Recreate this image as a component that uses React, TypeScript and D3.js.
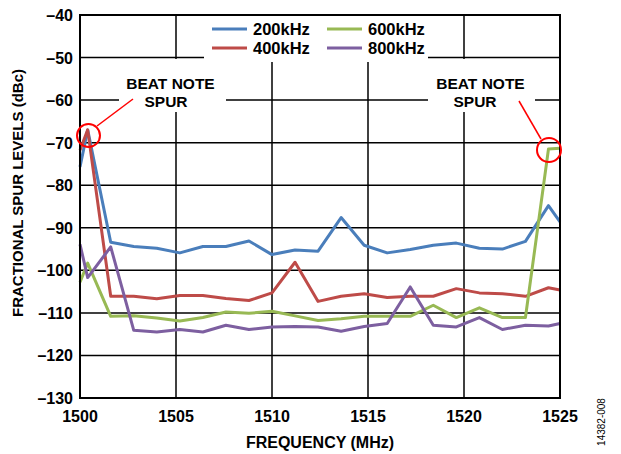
import React from "react";
import * as d3 from "d3";

// frequency points (MHz)
const freqs = [
  1500, 1500.4, 1501.6, 1502.8, 1504, 1505.2, 1506.4, 1507.6, 1508.8, 1510,
  1511.2, 1512.4, 1513.6, 1514.8, 1516, 1517.2, 1518.4, 1519.6, 1520.8, 1522,
  1523.2, 1524.4, 1525,
];

const s200 = [
  -75.7, -67, -93.4, -94.4, -94.8, -95.9, -94.4, -94.4, -93.1, -96.3, -95.2,
  -95.5, -87.6, -94.1, -95.9, -95.1, -94.1, -93.6, -94.8, -95, -93.2, -84.8,
  -88.6,
];
const s400 = [
  -71.8, -67, -106.1, -106.1, -106.7, -105.9, -105.9, -106.6, -107.1, -105.3,
  -98.1, -107.3, -106.1, -105.5, -106.4, -106.1, -106.1, -104.3, -105.3,
  -105.5, -106.1, -104.1, -104.6,
];
const s600 = [
  -102.8, -98.3, -110.8, -110.7, -111.2, -111.9, -111.1, -109.8, -110.1,
  -109.6, -110.7, -111.8, -111.4, -110.8, -110.8, -110.8, -108.2, -111.1,
  -108.8, -111.1, -111.1, -71.5, -71.3,
];
const s800 = [
  -93.9, -101.7, -94.5, -114.1, -114.5, -113.9, -114.5, -112.9, -113.9,
  -113.3, -113.2, -113.3, -114.3, -113.2, -112.5, -103.9, -112.9, -113.3,
  -111.1, -113.9, -112.9, -113.1, -112.5,
];

const seriesNames = ["200kHz", "400kHz", "600kHz", "800kHz"];
const seriesColors = ["#4a7ebb", "#be4b48", "#98b954", "#7d5fa0"];
const seriesData = [s200, s400, s600, s800];

const xTicks = [1500, 1505, 1510, 1515, 1520, 1525];
const yTicks = [-40, -50, -60, -70, -80, -90, -100, -110, -120, -130];

const W = 621;
const H = 454;
const left = 80;
const right = 560;
const top = 15;
const bottom = 398;
const font = "'Liberation Sans', Arial, Helvetica, sans-serif";

const App = () => {
  const x = d3.scaleLinear().domain([1500, 1525]).range([left, right]);
  const y = d3.scaleLinear().domain([-40, -130]).range([top, bottom]);

  const line = d3
    .line<number>()
    .x((d, i) => x(freqs[i]))
    .y((d) => y(d));

  const fmt = (v: number) => (v < 0 ? "\u2013" + Math.abs(v) : String(v));

  return (
    <svg
      width={W}
      height={H}
      style={{ position: "absolute", left: 0, top: 0, background: "#fff" }}
      fontFamily={font}
    >
      {/* grid */}
      {yTicks.map((t) => (
        <line key={"gy" + t} x1={left} x2={right} y1={y(t)} y2={y(t)} stroke="#000" strokeWidth={1.5} />
      ))}
      {xTicks.map((t) => (
        <line key={"gx" + t} x1={x(t)} x2={x(t)} y1={top} y2={bottom} stroke="#000" strokeWidth={1.5} />
      ))}

      {/* white boxes behind legend and annotations */}
      <rect x={204} y={top + 1} width={224} height={46} fill="#fff" />
      <rect x={119} y={59} width={107} height={53} fill="#fff" />
      <rect x={428} y={59} width={107} height={53} fill="#fff" />

      {/* series */}
      {seriesData.map((s, i) => (
        <path
          key={seriesNames[i]}
          d={line(s) || ""}
          fill="none"
          stroke={seriesColors[i]}
          strokeWidth={3}
          strokeLinejoin="round"
        />
      ))}

      {/* frame */}
      <rect x={left} y={top} width={right - left} height={bottom - top} fill="none" stroke="#000" strokeWidth={2} />

      {/* y ticks */}
      {yTicks.map((t) => (
        <text key={"ty" + t} x={73} y={y(t) + 6} textAnchor="end" fontSize={16} fontWeight="bold">
          {fmt(t)}
        </text>
      ))}
      {/* x ticks */}
      {xTicks.map((t) => (
        <text key={"tx" + t} x={x(t)} y={422} textAnchor="middle" fontSize={16} fontWeight="bold">
          {t}
        </text>
      ))}

      {/* legend: two columns */}
      {seriesNames.map((n, i) => {
        const ly = i === 0 || i === 2 ? 29 : 48;
        const col = i < 2 ? 212 : 327;
        return (
          <g key={"lg" + n}>
            <line x1={col} x2={col + 35} y1={ly} y2={ly} stroke={seriesColors[i]} strokeWidth={3} />
            <text x={col + 41} y={ly + 6} fontSize={16.5} fontWeight="bold">
              {n}
            </text>
          </g>
        );
      })}

      {/* annotations */}
      <text x={170.5} y={89} textAnchor="middle" fontSize={15.5} fontWeight="bold">
        BEAT NOTE
      </text>
      <text x={166} y={107} textAnchor="middle" fontSize={15.5} fontWeight="bold">
        SPUR
      </text>
      <line x1={133} y1={99} x2={97} y2={126} stroke="#ff0000" strokeWidth={1.5} />
      <circle cx={88.5} cy={135.5} r={11.5} fill="none" stroke="#ff0000" strokeWidth={2} />

      <text x={480.5} y={89} textAnchor="middle" fontSize={15.5} fontWeight="bold">
        BEAT NOTE
      </text>
      <text x={475} y={107} textAnchor="middle" fontSize={15.5} fontWeight="bold">
        SPUR
      </text>
      <line x1={519} y1={101} x2={541} y2={139} stroke="#ff0000" strokeWidth={1.5} />
      <circle cx={549} cy={150} r={12} fill="none" stroke="#ff0000" strokeWidth={2} />

      {/* axis titles */}
      <text
        transform={`translate(23,193) rotate(-90)`}
        textAnchor="middle"
        fontSize={15}
        fontWeight="bold"
      >
        FRACTIONAL SPUR LEVELS (dBc)
      </text>
      <text x={320} y={448} textAnchor="middle" fontSize={16} fontWeight="bold">
        FREQUENCY (MHz)
      </text>
      <text transform={`translate(605,422) rotate(-90)`} textAnchor="middle" fontSize={10}>
        14382-008
      </text>
    </svg>
  );
};

export default App;
